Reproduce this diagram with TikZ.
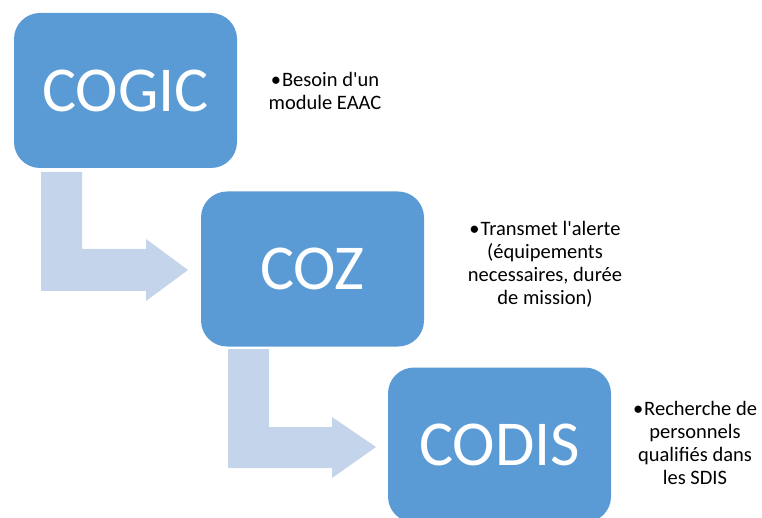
\documentclass[tikz,border=0pt]{standalone}
\usepackage{fontspec}
\setmainfont{Carlito}[Ligatures=TeXOff]
\definecolor{boxblue}{HTML}{5B9BD5}
\definecolor{arrowblue}{HTML}{C4D4EA}
\tikzset{
  stepbox/.style={fill=boxblue, draw=none, rounded corners=26pt, minimum width=223pt, minimum height=155pt, inner sep=0pt, text=white, font=\fontsize{64}{70}\selectfont},
  bent/.style={fill=arrowblue, draw=none},
  note/.style={align=center, inner sep=0pt, text=black, font=\fontsize{20.5}{23}\selectfont}
}
\newcommand{\bul}{•\hspace{1pt}}
\begin{document}
\begin{tikzpicture}[x=1pt,y=-1pt]
\useasboundingbox (0,0) rectangle (762,518);
\clip (0,0) rectangle (762,518);
% boxes
\node[stepbox] (b1) at (125.5,90.5) {COGIC};
\node[stepbox] (b2) at (312.5,269) {COZ};
\node[stepbox] (b3) at (499.5,445) {CODIS};
% bent arrows
\fill[bent] (41,172) -- (82,172) -- (82,249) -- (146,249) -- (146,239) -- (188,270) -- (146,301) -- (146,291) -- (41,291) -- cycle;
\fill[bent] (228,349) -- (269,349) -- (269,427) -- (332,427) -- (332,417) -- (376,447) -- (332,478) -- (332,468) -- (228,468) -- cycle;
% notes
\node[note] (t1) at (325,91) {\bul Besoin d'un\\module EAAC};
\node[note] (t2) at (545,264) {\bul Transmet l'alerte\\(équipements\\necessaires, durée\\de mission)};
\node[note] (t3) at (695,443) {\bul Recherche de\\personnels\\qualifiés dans\\les SDIS};
\end{tikzpicture}
\end{document}
